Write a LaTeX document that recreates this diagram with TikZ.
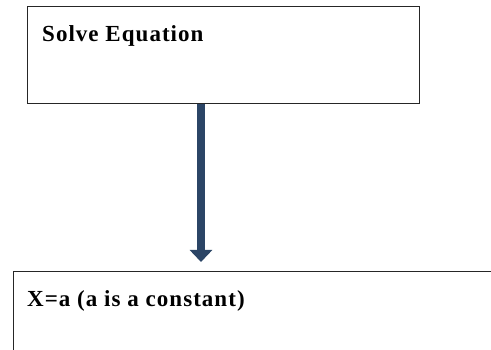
\documentclass[tikz,border=0pt]{standalone}
\usepackage{fontspec}
\setmainfont[LetterSpace=4.5]{Liberation Serif}
\usetikzlibrary{arrows.meta,calc}

\definecolor{arrowblue}{RGB}{43,69,102}

\begin{document}
\begin{tikzpicture}[x=1pt,y=-1pt,>=Stealth,
		box/.style={draw=black!85,line width=1.2pt,rectangle,inner sep=0pt},
		boxtext/.style={anchor=base west,inner sep=0pt,font=\fontsize{23}{27}\selectfont\bfseries}]
		\useasboundingbox (0,0) rectangle (491,350);
		\clip (0,0) rectangle (491,350);
		% boxes
		\node[box,anchor=north west,minimum width=392pt,minimum height=97pt] (solve) at (27,6) {};
		\node[box,anchor=north west,minimum width=500pt,minimum height=100pt] (result) at (13,271) {};
		% texts
		\node[boxtext] (solvetext) at (42,42) {Solve Equation};
		\node[boxtext] (resulttext) at (27,307) {X=a (a is a constant)};
		% arrow
		\coordinate (from) at (solve.south -| 201,0);
		\coordinate (to) at (result.north -| 201,0);
		\draw[-{Triangle[width=22pt,length=12pt]},line width=8pt,arrowblue,shorten >=9pt] (from) -- (to);
	\end{tikzpicture}
\end{document}
